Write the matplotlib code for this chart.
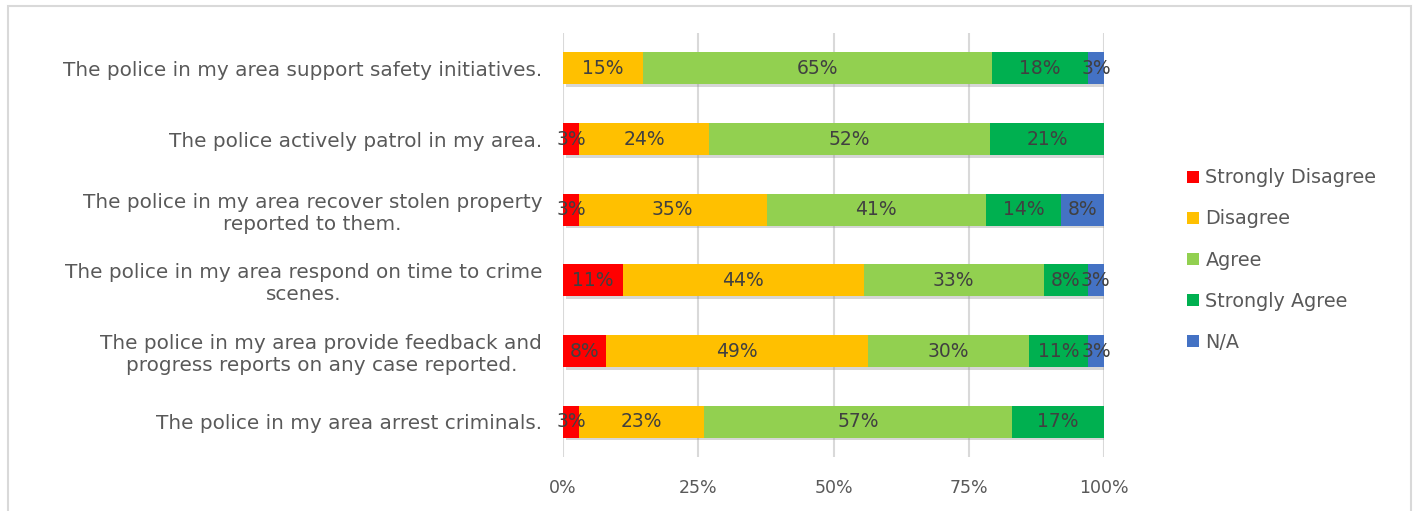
import matplotlib.pyplot as plt
import matplotlib.patheffects as pe
from matplotlib.patches import Rectangle
import numpy as np

plt.rcParams["font.family"] = ["DejaVu Sans"]

statements = [
    "The police in my area support safety initiatives.",
    "The police actively patrol in my area.",
    "The police in my area recover stolen property\nreported to them.",
    "The police in my area respond on time to crime\nscenes.",
    "The police in my area provide feedback and\nprogress reports on any case reported.",
    "The police in my area arrest criminals.",
]
responses = ["Strongly Disagree", "Disagree", "Agree", "Strongly Agree", "N/A"]
colors = ["#FF0000", "#FFC000", "#92D050", "#00B050", "#4472C4"]

# percent of respondents per statement, one list per response
strongly_disagree = [0, 3, 3, 11, 8, 3]
disagree = [15, 24, 35, 44, 49, 23]
agree = [65, 52, 41, 33, 30, 57]
strongly_agree = [18, 21, 14, 8, 11, 17]
not_applicable = [3, 0, 8, 3, 3, 0]

series = np.array([strongly_disagree, disagree, agree, strongly_agree, not_applicable], dtype=float)
shares = series / series.sum(axis=0)  # 100% stacked

fig = plt.figure(figsize=(14.16, 5.11), dpi=100)
fig.patches.append(Rectangle((8 / 1416, -0.05), 1403 / 1416, 1.05 - 6 / 511,
                             transform=fig.transFigure, fill=False,
                             edgecolor="#d9d9d9", linewidth=1.5))
ax = fig.add_axes([563 / 1416, 54 / 511, 541 / 1416, 424 / 511])

y = np.arange(len(statements))
left = np.zeros(len(statements))
shadow = [pe.SimplePatchShadow(offset=(2, -2), shadow_rgbFace="#8c8c8c", alpha=0.35), pe.Normal()]
for vals, share, name, col in zip(series, shares, responses, colors):
    bars = ax.barh(y, share, left=left, height=0.45, color=col, label=name, zorder=2)
    for b in bars:
        b.set_path_effects(shadow)
    for yi, v, l, s in zip(y, vals, left, share):
        if v > 0:
            ax.text(l + s / 2, yi, f"{v:.0f}%", ha="center", va="center",
                    fontsize=13.5, color="#404040", zorder=3)
    left += share

ax.set_xlim(0, 1)
ax.set_ylim(len(statements) - 0.5, -0.5)
ax.set_xticks([0, 0.25, 0.5, 0.75, 1.0])
ax.set_xticklabels(["0%", "25%", "50%", "75%", "100%"])
ax.set_yticks(y)
ax.set_yticklabels(statements, ha="right", multialignment="center", linespacing=1.2)
ax.tick_params(length=0, labelcolor="#595959")
ax.tick_params(axis="y", pad=15, labelsize=14.4)
ax.tick_params(axis="x", pad=16, labelsize=12.5)
ax.grid(axis="x", color="#d9d9d9", linewidth=1.5, zorder=0)
for s in ax.spines.values():
    s.set_visible(False)

handles, labels = ax.get_legend_handles_labels()
leg = fig.legend(handles, labels, loc="center left", bbox_to_anchor=(1170 / 1416, 251 / 511),
                 frameon=False, fontsize=13.8, handlelength=0.6, handleheight=0.6,
                 handletextpad=0.35, labelspacing=1.15, labelcolor="#595959")
for h in leg.legend_handles:
    h.set_path_effects([])

fig.savefig("out.png", dpi=100)
